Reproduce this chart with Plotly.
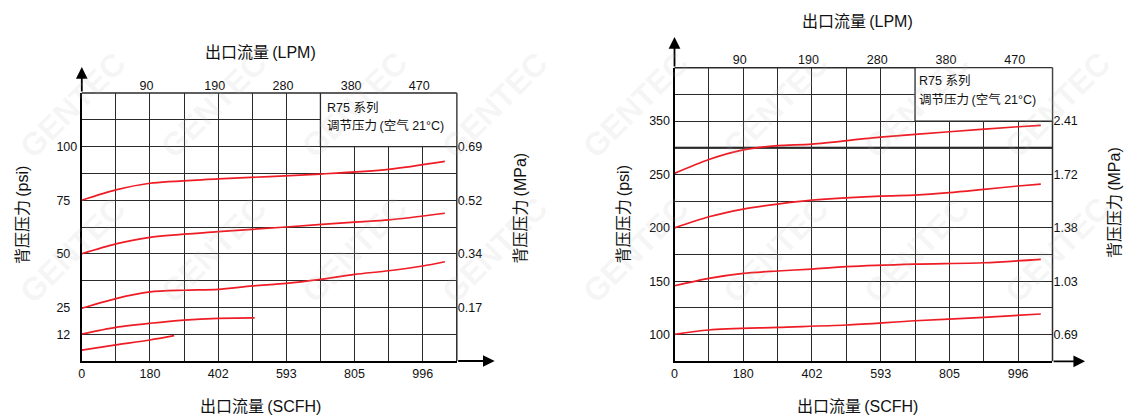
import plotly.graph_objects as go

W, H = 1126, 420

# ---------------- data ----------------
# x positions are in chart units (100 per grid column) along the flow axis
scfh_labels = ['0', '180', '402', '593', '805', '996']
lpm_labels = ['90', '190', '280', '380', '470']

# Left chart: back pressure (psi)
left_psi_labels = ['12', '25', '50', '75', '100']
left_mpa_labels = ['0.17', '0.34', '0.52', '0.69']

L1_x = [0, 100, 200, 400, 700, 900, 1065]
L1_y = [75, 79.8, 82.9, 84.9, 87.2, 89.4, 93.1]
L2_x = [0, 100, 200, 400, 600, 800, 900, 1065]
L2_y = [50, 54.6, 57.7, 60.3, 62.5, 64.8, 65.8, 68.9]
L3_x = [0, 100, 200, 300, 400, 500, 600, 700, 800, 900, 1000, 1065]
L3_y = [24.6, 29.1, 32.2, 33.0, 33.4, 35.0, 36.2, 38.1, 40.4, 42.1, 44.3, 46.3]
L4_x = [0, 100, 200, 300, 400, 503, 507]
L4_y = [12.6, 15.7, 17.6, 19.1, 19.9, 20.1, 20.1]
L5_x = [0, 100, 200, 271]
L5_y = [5.1, 7.5, 9.8, 11.8]

# Right chart: back pressure (psi, chart scale)
right_psi_labels = ['100', '150', '200', '250', '350']
right_mpa_labels = ['0.69', '1.03', '1.38', '1.72', '2.41']

R1_x = [0, 100, 200, 300, 400, 600, 800, 1000, 1066]
R1_y = [251, 264, 273, 277, 278.5, 285, 290, 294.7, 296]
R2_x = [0, 100, 200, 300, 400, 600, 700, 800, 900, 1000, 1066]
R2_y = [200, 210.4, 217.6, 222.3, 226, 229.8, 230.7, 232.9, 236, 239.2, 241]
R3_x = [0, 100, 200, 300, 400, 500, 700, 900, 1066]
R3_y = [145.8, 152.7, 157.4, 159.6, 161.4, 163.6, 166, 167.3, 170.5]
R4_x = [0, 100, 300, 500, 700, 900, 1066]
R4_y = [100.3, 104.3, 106.8, 109, 113, 116.2, 119.3]

watermark_text = 'GENTEC'

# ---------------- styling helpers ----------------
def px(x):
    return x / W

def py(y):
    return 1 - y / H

FONT = "Liberation Sans, Arial, Noto Sans CJK SC, sans-serif"
RED = '#ee1c25'
GRID = '#2a2a2a'

fig = go.Figure()

def add_curve(x, y, xa, ya):
    fig.add_trace(go.Scatter(x=x, y=y, mode='lines', xaxis=xa, yaxis=ya,
                             line=dict(color=RED, width=1.7, shape='spline', smoothing=0.8),
                             showlegend=False, hoverinfo='skip'))

for xs, ys in [(L1_x, L1_y), (L2_x, L2_y), (L3_x, L3_y), (L4_x, L4_y), (L5_x, L5_y)]:
    add_curve(xs, ys, 'x', 'y')
for xs, ys in [(R1_x, R1_y), (R2_x, R2_y), (R3_x, R3_y), (R4_x, R4_y)]:
    add_curve(xs, ys, 'x2', 'y2')

# dummy traces so the overlay axes render
fig.add_trace(go.Scatter(x=[None], y=[None], xaxis='x3', yaxis='y3', showlegend=False))
fig.add_trace(go.Scatter(x=[None], y=[None], xaxis='x4', yaxis='y4', showlegend=False))

grid_vals = list(range(0, 1101, 100))
bottom_text = []
for v in grid_vals:
    if v % 200 == 0 and v <= 1000:
        bottom_text.append(scfh_labels[v // 200])
    else:
        bottom_text.append('')

NB = '\u00a0'
left_y_vals = [i * 12.5 for i in range(11)]
left_y_text = ['', '12' + NB * 2, '25' + NB * 2, '', '50' + NB * 2, '', '75' + NB * 2, '', '100', '', '']
right_y_vals = list(range(75, 351, 25))
right_y_text = ['', '100', '', '150', '', '200', '', '250', '', '350', '', '']

tickfont = dict(family=FONT, size=12.5, color='#111')

common_x = dict(range=[0, 1100], tickmode='array', tickvals=grid_vals, ticktext=bottom_text,
                showgrid=True, gridcolor=GRID, gridwidth=1.3, zeroline=False,
                showline=True, linecolor='black', linewidth=2, ticks='',
                tickfont=tickfont, fixedrange=True)
common_y = dict(tickmode='array', showgrid=True, gridcolor=GRID, gridwidth=1.3, zeroline=False,
                showline=True, linecolor='black', linewidth=2, ticks='',
                tickfont=tickfont, fixedrange=True)

LX0, LX1, LY0, LY1 = 79, 455, 361, 93
RX0, RX1, RY0, RY1 = 673.3, 1052.3, 361.3, 67.7

fig.update_layout(
    width=W, height=H, margin=dict(l=0, r=0, t=0, b=0),
    paper_bgcolor='white', plot_bgcolor='white',
    font=dict(family=FONT, color='#111'),
    xaxis=dict(domain=[px(LX0), px(LX1)], anchor='y', **common_x),
    yaxis=dict(domain=[py(LY0), py(LY1)], anchor='x', range=[0, 125],
               tickvals=left_y_vals, ticktext=left_y_text, **common_y),
    xaxis2=dict(domain=[px(RX0), px(RX1)], anchor='y2', **common_x),
    yaxis2=dict(domain=[py(RY0), py(RY1)], anchor='x2', range=[75, 350],
                tickvals=right_y_vals, ticktext=right_y_text, **common_y),
    # top LPM axes
    xaxis3=dict(overlaying='x', side='top', anchor='y', range=[0, 1100], tickmode='array',
                tickvals=[190, 390, 590, 790, 990], ticktext=lpm_labels,
                showgrid=False, showline=False, zeroline=False, ticks='', tickfont=tickfont,
                fixedrange=True),
    xaxis4=dict(overlaying='x2', side='top', anchor='y2', range=[0, 1100], tickmode='array',
                tickvals=[190, 390, 590, 790, 990], ticktext=lpm_labels,
                showgrid=False, showline=False, zeroline=False, ticks='', tickfont=tickfont,
                fixedrange=True),
    # right MPa axes
    yaxis3=dict(overlaying='y', side='right', anchor='x', range=[0, 125], tickmode='array',
                tickvals=[25, 50, 75, 100], ticktext=left_mpa_labels,
                showgrid=False, showline=False, zeroline=False, ticks='', tickfont=tickfont,
                fixedrange=True),
    yaxis4=dict(overlaying='y2', side='right', anchor='x2', range=[75, 350], tickmode='array',
                tickvals=[100, 150, 200, 250, 300], ticktext=right_mpa_labels,
                showgrid=False, showline=False, zeroline=False, ticks='', tickfont=tickfont,
                fixedrange=True),
)

shapes = []
# frame top/right borders
for xr, yr in [('x domain', 'y domain'), ('x2 domain', 'y2 domain')]:
    shapes.append(dict(type='line', xref=xr, yref=yr, x0=0, x1=1, y0=1, y1=1,
                       line=dict(color=GRID, width=1.5), layer='above'))
    shapes.append(dict(type='line', xref=xr, yref=yr, x0=1, x1=1, y0=0, y1=1,
                       line=dict(color=GRID, width=1.5), layer='above'))
# info boxes (no grid inside)
shapes.append(dict(type='rect', xref='x', yref='y', x0=700, x1=1100, y0=100, y1=125,
                   fillcolor='white', line=dict(color=GRID, width=1.3), layer='above'))
shapes.append(dict(type='rect', xref='x2', yref='y2', x0=700, x1=1100, y0=300, y1=350,
                   fillcolor='white', line=dict(color=GRID, width=1.3), layer='above'))
# thick reference line in right chart
shapes.append(dict(type='line', xref='x2 domain', yref='y2', x0=0, x1=1, y0=275, y1=275,
                   line=dict(color='black', width=2.2), layer='below'))
fig.update_layout(shapes=shapes)

ann = []
def arrow(tx, ty, ax, ay):
    ann.append(dict(x=px(tx), y=py(ty), xref='paper', yref='paper', text='', showarrow=True,
                    ax=ax, ay=ay, arrowhead=2, arrowsize=1.3, arrowwidth=1.8,
                    arrowcolor='black'))

arrow(LX0, 67, 0, 26)
arrow(493, LY0, -38, 0)
arrow(RX0, 37, 0, 31)
arrow(1085, RY0, -33, 0)

def text(x, y, s, size=16, angle=0, xanchor='center', color='#111'):
    ann.append(dict(x=px(x), y=py(y), xref='paper', yref='paper', text=s, showarrow=False,
                    textangle=angle, xanchor=xanchor, yanchor='middle',
                    font=dict(family=FONT, size=size, color=color)))

# faint diagonal watermark (drawn first so the chart text sits above it)
wm_x = [70, 211, 352, 493, 634, 775, 916, 1057]
wm_y = [105, 250]
for wy in wm_y:
    for wx in wm_x:
        text(wx, wy, '<b>' + watermark_text + '</b>', size=32, angle=-45,
             color='rgba(180,180,180,0.13)')

TS = '\u2009'
# axis titles
text(258, 52, '出口流量' + TS + '(LPM)')
text(258, 406, '出口流量' + TS + '(SCFH)')
text(20, 215, '背压压力' + TS + '(psi)', angle=-90)
text(518, 208, '背压压力' + TS + '(MPa)', angle=-90)
text(857, 21, '出口流量' + TS + '(LPM)')
text(857, 406, '出口流量' + TS + '(SCFH)')
text(622, 214, '背压压力' + TS + '(psi)', angle=-90)
text(1114, 203, '背压压力' + TS + '(MPa)', angle=-90)

# info box texts
text(323, 108, 'R75 系列', size=12.5, xanchor='left')
text(323, 125, '调节压力' + TS + '(空气 21°C)', size=12.5, xanchor='left')
text(916, 81, 'R75 系列', size=12.5, xanchor='left')
text(916, 99, '调节压力' + TS + '(空气 21°C)', size=12.5, xanchor='left')

fig.update_layout(annotations=ann)

fig.write_html("out.html", config={'displayModeBar': False},
               post_script="document.body.style.margin='0';")
